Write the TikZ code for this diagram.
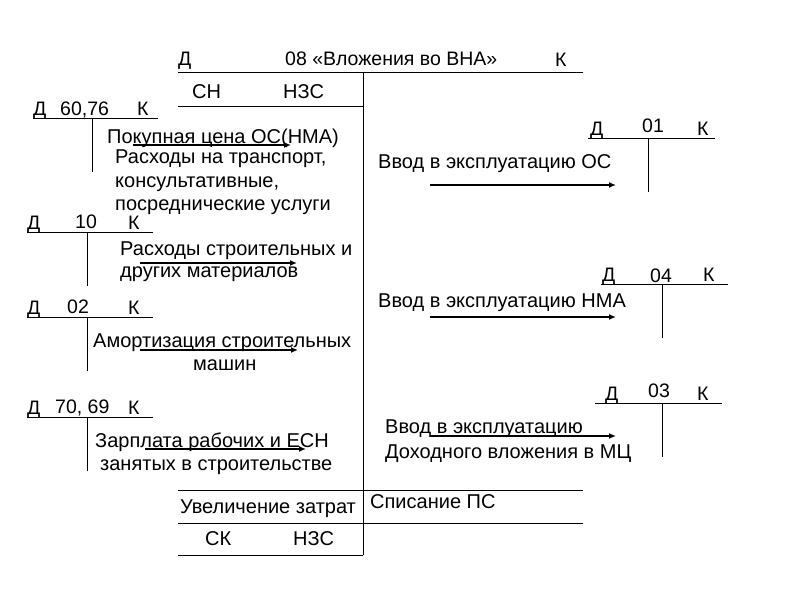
\documentclass[tikz,border=0pt]{standalone}
\usepackage{fontspec}
\setmainfont{Liberation Sans}
\usetikzlibrary{arrows.meta}
\tikzset{
  line/.style={draw=black, line width=0.9pt},
  flow/.style={draw=black, line width=1.8pt, -{Latex[length=7pt,width=6pt]}},
  lab/.style={anchor=base west, inner sep=0pt, font=\fontsize{20}{24}\selectfont},
  labs/.style={anchor=base west, inner sep=0pt, font=\fontsize{19.5}{23}\selectfont},
}
\begin{document}
\begin{tikzpicture}[x=1pt,y=-1pt]
  \useasboundingbox[fill=white] (0,0) rectangle (794,595);
  % main account 08
  \coordinate (mTL) at (178,72);  \coordinate (mTR) at (583,72);
  \coordinate (mV1) at (363,72);  \coordinate (mV2) at (363,555);
  \coordinate (mHL) at (178,106); \coordinate (mHR) at (363,106);
  \coordinate (mBL) at (178,490); \coordinate (mBR) at (583,490);
  \coordinate (mCL) at (178,523); \coordinate (mCR) at (583,523);
  \coordinate (mEL) at (178,555);
  \draw[line] (mTL) -- (mTR) (mV1) -- (mV2) (mHL) -- (mHR);
  \draw[line] (mBL) -- (mBR) (mCL) -- (mCR) (mEL) -- (mV2);
  \node[labs] (mD) at (178,65) {Д};
  \node[labs] (mT) at (285,65) {08 «Вложения во ВНА»};
  \node[labs] (mK) at (555,66) {К};
  \node[lab] (mSN) at (192,98) {СН};
  \node[lab] (mNZS) at (283,98) {НЗС};
  \node[lab] (mUZ) at (180,513) {Увеличение затрат};
  \node[lab] (mSP) at (370,508) {Списание ПС};
  \node[lab] (mSK) at (205,545) {СК};
  \node[lab] (mNZS2) at (293,545) {НЗС};
  % small accounts: name/x of line/y of line/x of vertical/x D/x number/x K/y number
  \foreach \n/\xa/\xb/\y/\xv/\xd/\xm/\xk/\ym/\num in {
      a/33/158/118/92/33/60/137/115/{60,76},
      b/27/153/232/87/27/75/128/228/10,
      c/27/153/317/87/27/67/128/313/02,
      d/27/153/417/87/27/55/128/413/{70, 69},
      e/588/715/138/648/590/642/697/132/01,
      f/601/728/284/662/602/650/703/282/04,
      g/595/722/403/662/605/648/697/397/03}{
    \coordinate (\n L) at (\xa,\y); \coordinate (\n R) at (\xb,\y);
    \coordinate (\n T) at (\xv,\y); \coordinate (\n B) at (\xv,\y+54);
    \draw[line] (\n L) -- (\n R) (\n T) -- (\n B);
    \node[labs] (\n D) at (\xd,\y-3) {Д};
    \node[labs] (\n N) at (\xm,\ym) {\num};
    \node[labs] (\n K) at (\xk,\y-3) {К};
  }
  % entries on the left
  \node[lab] (t1) at (107,143) {Покупная цена ОС(НМА)};
  \node[lab] (t2) at (115,163) {Расходы на транспорт,};
  \node[lab] (t3) at (115,187) {консультативные,};
  \node[lab] (t4) at (115,210) {посреднические услуги};
  \node[lab] (t5) at (120,255) {Расходы строительных и};
  \node[lab] (t6) at (120,277) {других материалов};
  \node[lab] (t7) at (93,347) {Амортизация строительных};
  \node[lab] (t8) at (193,370) {машин};
  \node[lab] (t9) at (95,447) {Зарплата рабочих и ЕСН};
  \node[lab] (t10) at (100,470) {занятых в строительстве};
  % entries on the right
  \node[lab] (r1) at (378,168) {Ввод в эксплуатацию ОС};
  \node[lab] (r2) at (378,307) {Ввод в эксплуатацию НМА};
  \node[lab] (r3) at (385,433) {Ввод в эксплуатацию};
  \node[lab] (r4) at (385,458) {Доходного вложения в МЦ};
  % arrows
  \coordinate (a1s) at (133,145); \coordinate (a1e) at (291,145);
  \coordinate (a2s) at (140,263); \coordinate (a2e) at (297,263);
  \coordinate (a3s) at (140,350); \coordinate (a3e) at (298,350);
  \coordinate (a4s) at (145,449); \coordinate (a4e) at (306,449);
  \coordinate (b1s) at (430,185); \coordinate (b1e) at (616,185);
  \coordinate (b2s) at (430,317); \coordinate (b2e) at (616,317);
  \coordinate (b3s) at (430,436); \coordinate (b3e) at (616,436);
  \foreach \s/\e in {a1s/a1e,a2s/a2e,a3s/a3e,a4s/a4e,b1s/b1e,b2s/b2e,b3s/b3e}
    \draw[flow] (\s) -- (\e);
\end{tikzpicture}
\end{document}
